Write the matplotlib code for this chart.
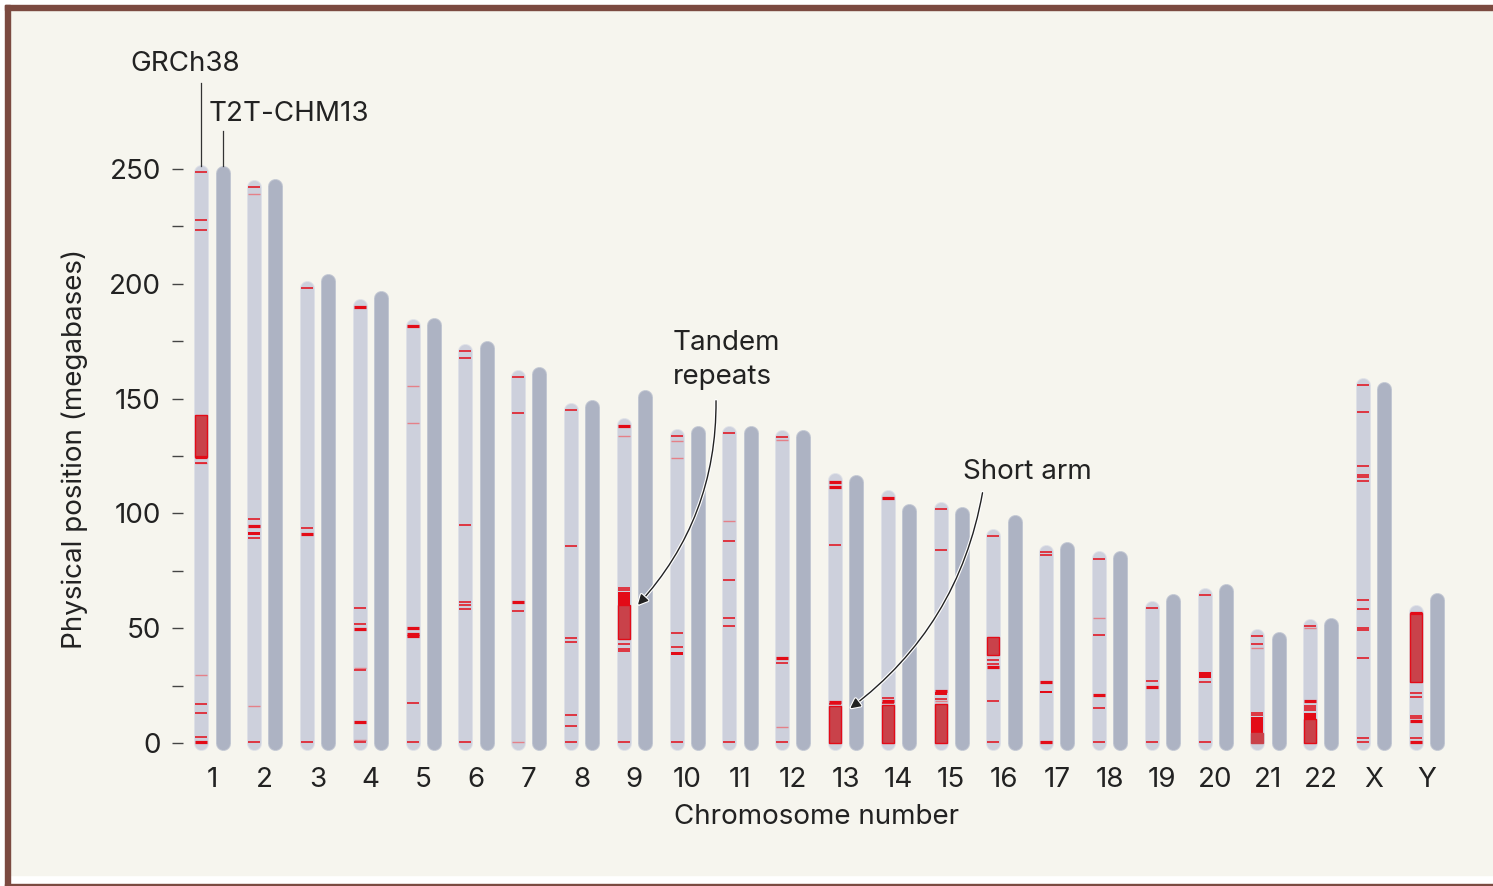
import matplotlib.pyplot as plt
import matplotlib.patheffects as pe
from matplotlib.patches import Rectangle, FancyArrowPatch

plt.rcParams['font.family'] = ['Inter', 'DejaVu Sans']

# chromosome lengths (megabases)
chroms = ['1', '2', '3', '4', '5', '6', '7', '8', '9', '10', '11', '12',
          '13', '14', '15', '16', '17', '18', '19', '20', '21', '22', 'X', 'Y']
grch38_len = [248.9, 242.2, 198.3, 190.2, 181.5, 170.8, 159.3, 145.1, 138.4, 133.8, 135.1, 133.3,
              114.4, 107.0, 102.0, 90.3, 83.3, 80.4, 58.6, 64.4, 46.7, 50.8, 156.0, 57.2]
t2t_len = [248.4, 242.7, 201.1, 193.6, 182.0, 172.1, 160.6, 146.3, 150.6, 134.8, 135.1, 133.3,
           113.6, 101.2, 99.8, 96.3, 84.3, 80.5, 61.7, 66.2, 45.1, 51.3, 154.3, 62.5]

# GRCh38 gaps / unresolved regions (megabases)
thin_lines = [
    [248.5, 228.0, 223.4, 121.8, 16.8, 12.9, 2.5],
    [242.3, 97.5, 89.5, 0.3],
    [198.2, 93.8, 0.3],
    [58.9, 51.8, 31.8, 0.3],
    [17.4, 0.3],
    [170.8, 167.9, 95.1, 61.3, 60.1, 58.4, 0.3],
    [159.2, 143.6, 57.7],
    [144.9, 85.6, 45.6, 43.9, 12.1, 7.6, 0.3],
    [67.7, 66.6, 43.2, 41.1, 40.2, 0.3],
    [133.6, 47.7, 41.6, 0.3],
    [134.9, 87.8, 70.8, 54.3, 50.8, 0.3],
    [133.1, 34.7, 0.3],
    [86.1, 17.0],
    [19.5, 17.3],
    [101.8, 83.9, 19.3],
    [90.0, 36.0, 34.3, 18.1, 0.3],
    [83.0, 81.7],
    [80.0, 46.9, 15.2, 0.3],
    [58.7, 26.9, 0.3],
    [64.3, 26.4, 0.3],
    [46.5, 43.0, 12.9, 12.0],
    [50.8, 16.0, 15.1, 14.2],
    [155.8, 144.0, 120.5, 116.6, 115.7, 114.0, 62.1, 58.2, 49.9, 49.1, 36.9, 2.0, 0.3],
    [21.6, 19.9, 11.8, 11.0, 2.0],
]
thick_lines = [
    [124.7, 0.3], [94.4], [91.1], [190.0, 49.5, 9.0], [181.5, 50.0, 47.4, 46.6],
    [], [61.6], [], [138.2], [], [], [37.0],
    [113.8, 111.5, 17.9], [106.7, 18.4], [22.8], [33.2], [26.7, 0.3], [20.8],
    [24.5], [], [], [18.4], [], [56.8, 9.6, 0.3],
]
pink_lines = [
    [122.1, 29.5], [238.9, 16.2], [], [32.6, 1.1], [155.6, 139.5], [], [0.4], [],
    [133.9], [131.4, 124.1], [96.5], [131.8, 6.8], [], [], [18.1], [], [], [54.3],
    [], [], [41.2], [49.9], [], [],
]
bright_blocks = [
    [], [(90.5, 92.0)], [], [], [], [], [], [], [(60.1, 65.6)], [(38.3, 39.8)],
    [], [], [], [], [(20.8, 22.0)], [], [(21.6, 22.8)], [], [], [(28.4, 31.0)],
    [(0.0, 11.2)], [(10.3, 13.0)], [], [],
]
muted_blocks = [
    [(124.7, 142.9)], [], [], [], [], [], [], [], [(45.4, 60.1)], [], [], [],
    [(0.0, 16.1)], [(0.0, 16.4)], [(0.0, 17.0)], [(38.2, 46.0)], [], [], [], [],
    [(0.2, 4.4)], [(0.0, 10.3)], [], [(26.7, 56.6)],
]

W, H = 1493, 886
BG = '#f6f5ee'
BROWN = '#7b4a40'
RED = '#e30b17'
MUTED = '#c9424a'
PINK = '#e58088'
TXT = '#222222'
FS = 20


def fx(px):
    return px / W


def fy(px):
    return 1 - px / H


fig = plt.figure(figsize=(W / 100, H / 100), dpi=100)
fig.patch.set_facecolor('white')

# cream panel and brown frame
fig.add_artist(Rectangle((fx(10), fy(875)), fx(W - 10), (875 - 10) / H,
                         transform=fig.transFigure, color=BG, zorder=0))
fig.add_artist(Rectangle((fx(5), fy(886)), fx(5), 881 / H, transform=fig.transFigure, color=BROWN, zorder=1))
fig.add_artist(Rectangle((fx(5), fy(10)), fx(W - 5), 5 / H, transform=fig.transFigure, color=BROWN, zorder=1))
fig.add_artist(Rectangle((fx(5), fy(886)), fx(W - 5), 2 / H, transform=fig.transFigure, color=BROWN, zorder=1))

ax = fig.add_axes([fx(183), fy(760), fx(1455 - 183), (760 - 150) / H])
ax.set_facecolor('none')
for s in ax.spines.values():
    s.set_visible(False)

off = 0.2
half = 0.113
for i, c in enumerate(chroms):
    xg = i - off
    xt = i + off
    # chromosome bodies
    ax.plot([xg, xg], [0, grch38_len[i]], color='#dfe1e7', lw=10.8, solid_capstyle='round', zorder=1)
    ax.plot([xg, xg], [0, grch38_len[i]], color='#cdd0dc', lw=9.4, solid_capstyle='round', zorder=2)
    ax.plot([xt, xt], [0, t2t_len[i]], color='#c3c8d3', lw=10.8, solid_capstyle='round', zorder=1)
    ax.plot([xt, xt], [0, t2t_len[i]], color='#adb3c3', lw=9.4, solid_capstyle='round', zorder=2)

    for lo, hi in bright_blocks[i]:
        ax.bar(xg, hi - lo, width=2 * half, bottom=lo, color=RED, lw=0, zorder=3)
    for lo, hi in muted_blocks[i]:
        ax.bar(xg, hi - lo, width=2 * half, bottom=lo, color=MUTED,
               edgecolor=RED if c != '21' else MUTED, lw=1.0, zorder=4)
    if pink_lines[i]:
        ax.hlines(pink_lines[i], xg - half, xg + half, color=PINK, lw=1.0, zorder=5)
    if thin_lines[i]:
        ax.hlines(thin_lines[i], xg - half, xg + half, color=RED, lw=1.1, zorder=5)
    if thick_lines[i]:
        ax.hlines(thick_lines[i], xg - half, xg + half, color=RED, lw=2.3, zorder=5)

ax.set_xlim((183 - 212) / 52.8, (1455 - 212) / 52.8)
ax.set_ylim((743 - 760) / 2.296, (743 - 150) / 2.296)

ax.set_xticks(range(len(chroms)))
ax.set_xticklabels(chroms)
ax.set_yticks([0, 50, 100, 150, 200, 250])
ax.set_yticks([25, 75, 125, 175, 225], minor=True)
ax.tick_params(axis='x', length=0, pad=5, labelsize=FS, labelcolor=TXT)
ax.tick_params(axis='y', which='both', direction='out', length=8, width=1.0,
               color='#444444', pad=8, labelsize=FS, labelcolor=TXT)

fig.text(fx(817), fy(817), 'Chromosome number', ha='center', va='center', fontsize=FS, color=TXT)
fig.text(fx(75), fy(449), 'Physical position (megabases)', ha='center', va='center',
         rotation=90, fontsize=FS, color=TXT)

# assembly labels
ax.plot([-off, -off], [251.5, 287.5], color='#333333', lw=0.9, clip_on=False)
ax.plot([off, off], [251.5, 266.5], color='#333333', lw=0.9, clip_on=False)
ax.text((185 - 212) / 52.8, (743 - 64) / 2.296, 'GRCh38', ha='center', va='center',
        fontsize=FS, color=TXT, clip_on=False)
ax.text((209 - 212) / 52.8, (743 - 114) / 2.296, 'T2T-CHM13', ha='left', va='center',
        fontsize=FS, color=TXT, clip_on=False)

# callouts
ax.text((673 - 212) / 52.8, (743 - 360) / 2.296, 'Tandem\nrepeats', ha='left', va='center',
        fontsize=FS, color=TXT, linespacing=1.4)
ax.text((963 - 212) / 52.8, (743 - 472) / 2.296, 'Short arm', ha='left', va='center',
        fontsize=FS, color=TXT)

for (sx, sy), (ex, ey) in [((716, 398), (636, 607)), ((983, 490), (848, 710))]:
    arr = FancyArrowPatch(((sx - 212) / 52.8, (743 - sy) / 2.296),
                          ((ex - 212) / 52.8, (743 - ey) / 2.296),
                          connectionstyle='arc3,rad=-0.2',
                          arrowstyle='-|>,head_length=6,head_width=3',
                          color='#222222', lw=1.0, zorder=6)
    arr.set_path_effects([pe.withStroke(linewidth=2.6, foreground='white')])
    ax.add_patch(arr)

fig.savefig('out.png', dpi=100, facecolor=fig.get_facecolor())
